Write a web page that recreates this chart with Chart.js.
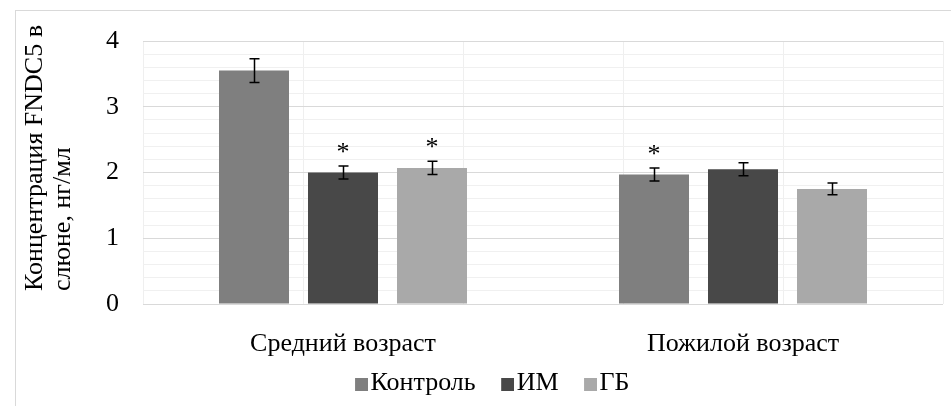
<!DOCTYPE html>
<html lang="ru">
<head>
<meta charset="utf-8">
<script src="https://cdn.jsdelivr.net/npm/chart.js@4/dist/chart.umd.min.js"></script>
<style>
  html, body { margin: 0; padding: 0; background: #fff; }
  #wrap { width: 951px; height: 406px; position: relative; }
</style>
</head>
<body>
<div id="wrap"><canvas id="c" width="951" height="406"></canvas></div>
<script>
// Age groups on the x axis
const categories = ['Средний возраст', 'Пожилой возраст'];

// Series: mean FNDC5 concentration (ng/ml) and error (±)
const seriesNames = ['Контроль', 'ИМ', 'ГБ'];
const controlValues = [3.55, 1.97];
const controlErrors = [0.18, 0.10];
const imValues = [2.00, 2.05];
const imErrors = [0.10, 0.10];
const gbValues = [2.07, 1.75];
const gbErrors = [0.10, 0.09];

// Significance marks (*) above bars
const controlMarks = [false, true];
const imMarks = [true, false];
const gbMarks = [true, false];

// Y axis
const yMin = 0;
const yMax = 4;
const yStep = 0.2;

const yTitleLines = ['Концентрация FNDC5 в', 'слюне, нг/мл'];

const FONT = '"Liberation Serif", "Times New Roman", serif';
const FS = 26;

const colors = ['#7f7f7f', '#484848', '#a9a9a9'];
const errors = [controlErrors, imErrors, gbErrors];
const marks = [controlMarks, imMarks, gbMarks];

// Legend swatches: a 13px square drawn at the right side of a wider
// transparent canvas so that it sits close to its label
const SQ = 13;
const swatches = colors.map((col) => {
  const cv = document.createElement('canvas');
  cv.width = 22;
  cv.height = 16;
  const g = cv.getContext('2d');
  g.fillStyle = col;
  g.fillRect(22 - SQ, 16 - SQ, SQ, SQ);
  return cv;
});

const bgPlugin = {
  id: 'bg',
  beforeDraw(chart) {
    const ctx = chart.ctx;
    ctx.save();
    ctx.fillStyle = '#fff';
    ctx.fillRect(0, 0, chart.width, chart.height);
    // outer frame of the chart
    ctx.strokeStyle = '#d9d9d9';
    ctx.lineWidth = 1;
    ctx.strokeRect(15.5, 10.5, 1000, 1000);
    ctx.restore();
  }
};

const errorBarPlugin = {
  id: 'errorBars',
  afterDatasetsDraw(chart) {
    const ctx = chart.ctx;
    const yScale = chart.scales.y;
    ctx.save();
    chart.data.datasets.forEach((ds, i) => {
      const meta = chart.getDatasetMeta(i);
      meta.data.forEach((bar, j) => {
        const v = ds.data[j];
        const e = errors[i][j];
        const x = Math.round(bar.x) + 0.5;
        const yt = yScale.getPixelForValue(v + e);
        const yb = yScale.getPixelForValue(v - e);
        ctx.strokeStyle = '#000';
        ctx.lineWidth = 1.5;
        ctx.beginPath();
        ctx.moveTo(x, yt);
        ctx.lineTo(x, yb);
        ctx.moveTo(x - 5, yt);
        ctx.lineTo(x + 5, yt);
        ctx.moveTo(x - 5, yb);
        ctx.lineTo(x + 5, yb);
        ctx.stroke();
        if (marks[i][j]) {
          ctx.fillStyle = '#000';
          ctx.font = FS + 'px ' + FONT;
          ctx.textAlign = 'center';
          ctx.textBaseline = 'alphabetic';
          ctx.fillText('*', bar.x, yt - 6);
        }
      });
    });
    ctx.restore();
  }
};

const yTitlePlugin = {
  id: 'yTitle',
  afterDraw(chart) {
    const ctx = chart.ctx;
    ctx.save();
    ctx.fillStyle = '#000';
    ctx.font = FS + 'px ' + FONT;
    ctx.textAlign = 'left';
    ctx.textBaseline = 'alphabetic';
    ctx.translate(42, 291);
    ctx.rotate(-Math.PI / 2);
    yTitleLines.forEach((t, k) => ctx.fillText(t, 0, k * 28));
    ctx.restore();
  }
};

const LEG_PAD = 27;
// Place the legend row: horizontal nudge and fixed vertical position
const legendPlace = {
  id: 'legendPlace',
  afterLayout(chart) {
    const lg = chart.legend;
    lg.left += 21.5;
    lg.right += 21.5;
    lg.top = 383 - 13 - LEG_PAD;
    lg.bottom = 406;
  }
};

function draw() {
  new Chart(document.getElementById('c'), {
    type: 'bar',
    data: {
      labels: categories,
      datasets: [
        { label: seriesNames[0], data: controlValues, backgroundColor: colors[0] },
        { label: seriesNames[1], data: imValues, backgroundColor: colors[1] },
        { label: seriesNames[2], data: gbValues, backgroundColor: colors[2] }
      ]
    },
    options: {
      responsive: false,
      animation: false,
      devicePixelRatio: 1,
      categoryPercentage: 0.6675,
      barPercentage: 0.7865,
      layout: { padding: { left: 0, top: 41, right: 8, bottom: 0 } },
      plugins: {
        legend: {
          position: 'bottom',
          maxHeight: 50,
          labels: {
            font: { family: FONT, size: FS },
            color: '#000',
            usePointStyle: true,
            pointStyleWidth: 1,
            boxHeight: SQ,
            padding: LEG_PAD,
            generateLabels(chart) {
              const items = Chart.defaults.plugins.legend.labels.generateLabels(chart);
              items.forEach((it) => { it.pointStyle = swatches[it.datasetIndex]; });
              return items;
            }
          }
        },
        tooltip: { enabled: false }
      },
      scales: {
        x: {
          grid: { display: false },
          border: { display: false },
          ticks: { font: { family: FONT, size: FS }, color: '#000', padding: 17 },
          afterFit(s) { s.height = 52; }
        },
        x2: {
          type: 'linear',
          position: 'top',
          min: 0,
          max: 2,
          ticks: { display: false, stepSize: 0.5 },
          grid: { color: '#efefef', drawTicks: false },
          border: { display: false },
          afterFit(s) { s.height = 0; }
        },
        y: {
          min: yMin,
          max: yMax,
          grid: {
            drawTicks: false,
            color: (c) => (Math.abs(c.tick.value - Math.round(c.tick.value)) < 1e-6 ? '#d9d9d9' : '#f0f0f0')
          },
          border: { display: false },
          ticks: {
            stepSize: yStep,
            autoSkip: false,
            padding: 24,
            font: { family: FONT, size: FS },
            color: '#000',
            callback: (v) => (Math.abs(v - Math.round(v)) < 1e-6 ? String(Math.round(v)) : '')
          },
          afterFit(s) { s.width = 143; }
        }
      }
    },
    plugins: [bgPlugin, errorBarPlugin, yTitlePlugin, legendPlace]
  });
}

const fontReady = document.fonts && document.fonts.load
  ? document.fonts.load(FS + 'px "Liberation Serif"').catch(() => null)
  : Promise.resolve();
fontReady.then(draw, draw);
</script>
</body>
</html>
